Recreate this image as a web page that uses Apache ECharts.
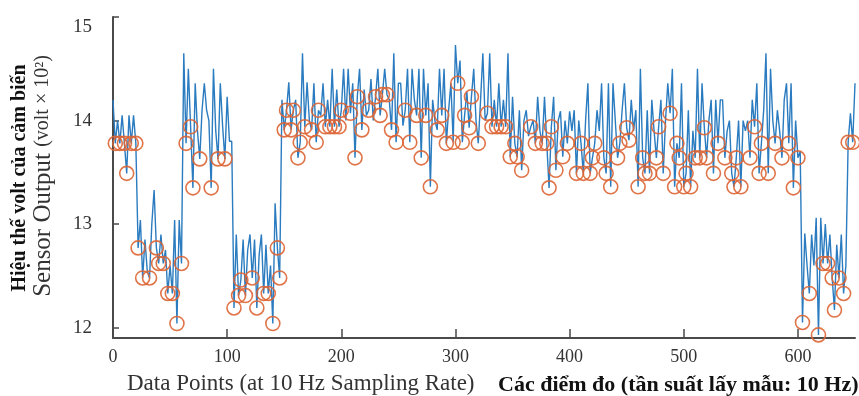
<!DOCTYPE html>
<html>
<head>
<meta charset="utf-8">
<script src="https://cdn.jsdelivr.net/npm/echarts@6/dist/echarts.min.js"></script>
<style>
  html, body { margin: 0; padding: 0; background: #fff; }
  #sensor_chart { width: 859px; height: 396px; }
</style>
</head>
<body>
<div id="sensor_chart"></div>
<script>
// readings sampled every 2 data points, one array per 100 points
var seg0 = [14.20, 13.78, 14.00, 13.78, 14.05, 13.78, 13.49, 14.05, 13.78, 14.05,
            13.78, 12.77, 13.04, 12.48, 12.85, 12.55, 12.48, 13.00, 13.33, 12.77,
            12.62, 12.90, 12.62, 12.75, 12.33, 12.60, 12.33, 13.04, 12.04, 13.04,
            12.62, 14.65, 13.78, 14.50, 13.94, 13.35, 14.36, 13.90, 13.63, 14.10,
            14.36, 14.10, 14.00, 13.35, 14.50, 13.90, 13.63, 14.36, 13.95, 13.63];
var seg1 = [14.23, 13.80, 13.80, 12.19, 12.90, 12.31, 12.46, 12.85, 12.31, 12.75,
            12.90, 12.48, 12.85, 12.19, 12.70, 12.90, 12.33, 12.80, 12.33, 12.60,
            12.04, 13.20, 12.77, 12.48, 14.20, 13.91, 14.10, 14.37, 13.91, 14.10,
            14.20, 13.64, 13.79, 14.65, 13.94, 14.37, 14.00, 13.91, 14.36, 13.79,
            14.10, 14.05, 14.36, 13.94, 14.20, 13.94, 14.50, 13.94, 14.30, 13.94];
var seg2 = [14.10, 14.50, 14.00, 14.50, 14.07, 14.36, 13.64, 14.23, 14.50, 13.91,
            14.30, 14.05, 14.10, 14.40, 14.00, 14.23, 14.50, 14.05, 14.25, 14.50,
            14.25, 14.20, 13.91, 14.65, 13.79, 14.36, 14.36, 13.95, 14.10, 14.50,
            13.79, 14.50, 14.20, 14.05, 14.50, 13.64, 14.50, 14.05, 14.36, 13.36,
            14.20, 14.00, 13.91, 14.50, 14.05, 14.50, 13.78, 14.10, 14.36, 13.79];
var seg3 = [14.73, 14.36, 14.58, 13.79, 14.05, 14.28, 13.93, 14.23, 14.50, 14.00,
            13.78, 14.20, 14.65, 14.00, 14.07, 14.65, 13.94, 14.20, 13.94, 14.36,
            13.94, 14.20, 13.94, 14.65, 13.65, 14.23, 13.78, 13.65, 14.10, 13.52,
            14.00, 14.10, 13.85, 13.94, 14.00, 13.78, 14.23, 13.90, 13.78, 14.23,
            13.78, 13.35, 13.94, 14.23, 13.52, 14.00, 14.09, 13.65, 14.00, 13.78];
var seg4 = [14.09, 13.90, 14.10, 13.49, 14.00, 13.78, 13.49, 14.00, 14.36, 13.49,
            13.64, 13.78, 14.10, 13.90, 14.36, 13.64, 13.49, 14.36, 13.36, 14.36,
            14.00, 13.64, 13.78, 14.10, 14.36, 13.93, 13.81, 14.20, 13.90, 14.10,
            13.36, 14.50, 13.64, 13.49, 14.10, 13.49, 14.20, 13.90, 13.64, 13.94,
            14.20, 13.49, 14.00, 14.36, 14.07, 14.50, 13.36, 13.78, 13.64, 14.36];
var seg5 = [13.36, 13.49, 14.10, 13.36, 13.90, 13.64, 14.50, 13.64, 14.36, 13.93,
            13.64, 14.00, 14.20, 13.49, 14.20, 13.78, 14.20, 14.20, 13.64, 13.90,
            14.00, 13.49, 13.36, 13.64, 14.00, 13.36, 14.00, 13.90, 14.00, 13.64,
            14.20, 13.94, 14.36, 13.49, 13.78, 14.10, 14.65, 13.49, 14.50, 14.00,
            13.78, 14.10, 13.90, 13.64, 14.20, 14.36, 13.78, 14.36, 13.35, 14.00];
var seg6 = [13.64, 13.70, 12.05, 12.91, 12.60, 12.33, 12.90, 12.60, 13.06, 11.93,
            13.06, 12.62, 13.00, 12.62, 12.90, 12.48, 12.17, 12.80, 12.48, 12.90,
            12.33, 12.60, 13.79, 14.07, 13.79, 14.36];

// data points that carry an orange circle
var circleX = [2, 6, 10, 12, 16, 20, 22, 26, 32, 38, 40, 44, 48, 52, 56, 60, 64, 68, 70, 76, 86, 92, 98,
               106, 110, 112, 116, 122, 126, 132, 136, 140, 144, 146, 150, 152, 156, 158, 162, 164, 168,
               174, 178, 180, 186, 190, 194, 198,
               200, 208, 212, 214, 218, 224, 230, 234, 236, 240, 244, 248, 256, 260, 266, 270, 274, 278,
               284, 288, 292, 298,
               302, 306, 308, 312, 314, 320, 328, 332, 336, 340, 344, 348, 352, 354, 358, 366, 370, 376,
               380, 382, 384, 388, 394, 398,
               406, 410, 412, 418, 420, 422, 430, 432, 436, 442, 444, 450, 452, 460, 464, 466, 470, 476,
               478, 482, 488, 492, 494, 496,
               500, 502, 506, 510, 514, 518, 520, 526, 530, 536, 542, 544, 546, 550, 558, 562, 566, 568,
               574, 580, 586, 592, 596,
               600, 604, 610, 618, 622, 626, 630, 632, 636, 640, 644, 648];

var xTicks = [0, 100, 200, 300, 400, 500, 600];
var yTicks = [12, 13, 14, 15];

var sensor = [].concat(seg0, seg1, seg2, seg3, seg4, seg5, seg6);
var lineData = [];
for (var i = 0; i < sensor.length; i++) {
    lineData.push([i * 2, sensor[i]]);
}
var circleData = [];
for (var j = 0; j < circleX.length; j++) {
    circleData.push([circleX[j], sensor[circleX[j] / 2]]);
}

var serif = '"Liberation Serif", "DejaVu Serif", serif';
var chart = echarts.init(document.getElementById('sensor_chart'));
var option = {
    animation: false,
    backgroundColor: '#fff',
    grid: { left: 113, right: 4, top: 17, bottom: 58 },
    xAxis: {
        type: 'value',
        min: 0,
        max: 650,
        axisLine: { show: true, lineStyle: { color: '#4a4a4a', width: 2 } },
        axisTick: { show: true, inside: true, length: 9, customValues: xTicks,
                    lineStyle: { color: '#4a4a4a', width: 1.5 } },
        axisLabel: { customValues: xTicks, margin: 10, fontFamily: serif, fontSize: 18, color: '#333' },
        splitLine: { show: false }
    },
    yAxis: {
        type: 'value',
        min: 11.9,
        max: 15,
        axisLine: { show: true, lineStyle: { color: '#4a4a4a', width: 2 } },
        axisTick: { show: true, inside: true, length: 6, customValues: yTicks,
                    lineStyle: { color: '#4a4a4a', width: 1.5 } },
        axisLabel: {
            customValues: yTicks, margin: 21, fontFamily: serif, fontSize: 19, color: '#333',
            formatter: function (v) {
                return v === 15 ? '{t|15}' : String(v);
            },
            rich: { t: { fontFamily: serif, fontSize: 19, color: '#333', padding: [20, 0, 0, 0] } }
        },
        splitLine: { show: false }
    },
    series: [
        {
            name: 'sensor',
            type: 'line',
            data: lineData,
            showSymbol: false,
            lineStyle: { color: '#2a7bbf', width: 1.4 },
            z: 2
        },
        {
            name: 'marked',
            type: 'scatter',
            data: circleData,
            symbol: 'circle',
            symbolSize: 14,
            itemStyle: { color: 'rgba(0,0,0,0)', borderColor: '#dd6535', borderWidth: 1.6, opacity: 0.9 },
            z: 3
        }
    ],
    graphic: [
        {
            type: 'text', x: 20, y: 178, rotation: Math.PI / 2,
            style: { text: 'Hiệu thế volt của cảm biến', font: 'bold 20px ' + serif,
                     fill: '#111', textAlign: 'center', textVerticalAlign: 'middle' }
        },
        {
            type: 'text', x: 43, y: 176, rotation: Math.PI / 2,
            style: {
                text: '{a|Sensor Output }{b|(volt × 10²)}',
                textAlign: 'center', textVerticalAlign: 'middle',
                rich: {
                    a: { fontFamily: serif, fontSize: 25, fill: '#333' },
                    b: { fontFamily: serif, fontSize: 20, fill: '#333' }
                }
            }
        },
        {
            type: 'text', x: 127, y: 384,
            style: { text: 'Data Points (at 10 Hz Sampling Rate)', font: '23px ' + serif,
                     fill: '#333', textAlign: 'left', textVerticalAlign: 'middle' }
        },
        {
            type: 'text', x: 498, y: 385,
            style: { text: 'Các điểm đo (tần suất lấy mẫu: 10 Hz)', font: 'bold 22px ' + serif,
                     fill: '#111', textAlign: 'left', textVerticalAlign: 'middle' }
        }
    ]
};
chart.setOption(option);
</script>
</body>
</html>
